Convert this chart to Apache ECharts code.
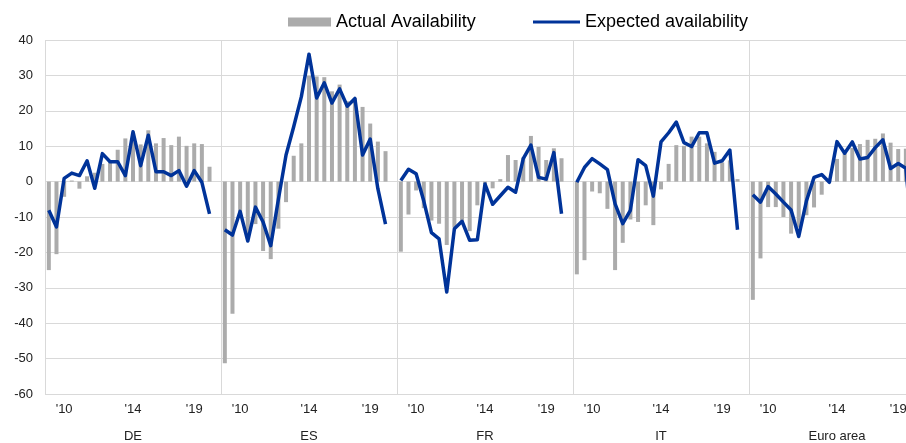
<!DOCTYPE html>
<html>
<head>
<meta charset="utf-8">
<script src="https://cdn.jsdelivr.net/npm/echarts@6/dist/echarts.min.js"></script>
<style>
  html, body { margin: 0; padding: 0; background: #fff; overflow: hidden; }
  /* the source chart runs past the right edge, so the canvas is wider than the window */
  #chart { width: 925px; height: 443px; }
</style>
</head>
<body>
<div id="chart"></div>
<script>
// panels and tick labels
var countries = ['DE', 'ES', 'FR', 'IT', 'Euro area'];
var periodLabels = ['', '', "'10", '', '', '', '', '', '', '', '', "'14", '', '', '', '', '', '', '', "'19", '', '', ''];

// actual availability (bars), 22 survey rounds per country
var actualDE = [-25, -20.5, -4.3, 0.3, -2, 1.5, 2.5, 5, 5.5, 9, 12.2, 12, 10.5, 14.5, 10.8, 12.3, 10.3, 12.7, 10.1, 10.8, 10.6, 4.2];
var actualES = [-51.3, -37.3, -10, -16, -12, -19.6, -21.9, -13.3, -5.8, 7.3, 10.8, 29.9, 29.7, 29.5, 25.5, 27.4, 22.7, 23.6, 21.1, 16.4, 11.3, 8.6];
var actualFR = [-19.8, -9.3, -2.5, -7.5, -11, -11.9, -17.9, -13, -11, -14, -6.7, -0.7, -1.9, 0.7, 7.5, 6.1, 6.8, 12.9, 9.8, 6.1, 9.4, 6.6];
var actualIT = [-26.2, -22.2, -2.8, -3.3, -7.7, -25, -17.3, -10.7, -11.4, -6.7, -12.3, -2.2, 5, 10.3, 10.1, 12.7, 12.7, 10.8, 8.4, 5.4, 6, 0.7];
var actualEA = [-33.4, -21.7, -7.2, -7.2, -10, -14.7, -13, -9.5, -7.3, -3.7, 0.5, 6.4, 8, 9.5, 10.6, 11.8, 12.1, 13.6, 11, 9.2, 9.3, 9];

// expected availability (line)
var expectedDE = [-8.1, -12.8, 0.9, 2.4, 1.7, 5.9, -1.9, 7.9, 5.6, 5.6, 1.7, 14.1, 4.5, 13.1, 2.8, 2.8, 1.7, 3.1, -1.3, 3.1, -0.2, -9.1];
var expectedES = [-13.6, -15.1, -8.4, -16.8, -7.2, -11.4, -18.1, -5, 7.5, 15.5, 24, 36, 23.6, 27.9, 22.2, 26.2, 21.3, 23.5, 7.5, 12, -2, -12];
var expectedFR = [0.3, 3.5, 2.2, -5.5, -14.4, -16.2, -31.2, -13.3, -11.2, -16.6, -16.4, -0.7, -6.4, -4, -1.6, -3, 6.5, 10.3, 1.2, 0.7, 8.2, -9.1];
var expectedIT = [-0.2, 4, 6.5, 5, 3.4, -6.3, -11.9, -8.1, 6.2, 4.5, -4.1, 11.2, 13.8, 16.8, 11, 9.9, 13.8, 13.8, 5.2, 5.9, 8.9, -13.6];
var expectedEA = [-3.7, -5.8, -1.4, -3.5, -5.8, -8, -15.5, -5.5, 1.2, 2, -0.2, 11.3, 8, 11.2, 6.4, 6.8, 9.6, 11.8, 3.7, 5.1, 3.8, -20];

var actualAll = [actualDE, actualES, actualFR, actualIT, actualEA];
var expectedAll = [expectedDE, expectedES, expectedFR, expectedIT, expectedEA];
var slots = periodLabels.length;

// one long category axis, a blank slot closes each panel
var cats = [], barData = [], lineData = [];
countries.forEach(function (c, k) {
    for (var i = 0; i < slots; i++) {
        cats.push(c + ' ' + i);
        barData.push(i < actualAll[k].length ? actualAll[k][i] : null);
        lineData.push(i < expectedAll[k].length ? expectedAll[k][i] : null);
    }
});

var font = 'Liberation Sans, Arial, sans-serif';
var gridColor = '#d9d9d9';
var blue = '#003399';
var isEdge = function (i) { return i % slots === 0; };

var chart = echarts.init(document.getElementById('chart'));
chart.setOption({
    animation: false,
    textStyle: { fontFamily: font },
    legend: [{
        left: 288, top: 13, padding: 0,
        data: [{ name: 'Actual Availability', icon: 'rect' }],
        itemWidth: 43, itemHeight: 9,
        textStyle: { fontSize: 18, color: '#000', fontFamily: font }
    }, {
        left: 533, top: 13, padding: 0,
        data: [{ name: 'Expected availability', icon: 'rect' }],
        itemWidth: 47, itemHeight: 3,
        itemStyle: { color: blue },
        textStyle: { fontSize: 18, color: '#000', fontFamily: font }
    }],
    grid: { left: 45, top: 40, right: 0, height: 357 },
    xAxis: [{
        type: 'category',
        data: cats,
        boundaryGap: true,
        axisLine: { show: false },
        axisTick: { show: true, interval: isEdge, length: 46, lineStyle: { color: gridColor } },
        splitLine: { show: true, interval: isEdge, lineStyle: { color: gridColor } },
        axisLabel: {
            interval: 0, margin: 9, fontSize: 13, color: '#222',
            formatter: function (v, i) { return periodLabels[i % slots]; }
        }
    }, {
        type: 'category',
        data: cats,
        position: 'bottom',
        offset: 27,
        axisLine: { show: false },
        axisTick: { show: false },
        splitLine: { show: false },
        axisLabel: {
            interval: 0, margin: 9, fontSize: 13, color: '#222',
            formatter: function (v, i) {
                return i % slots === 11 ? countries[Math.floor(i / slots)] : '';
            }
        }
    }],
    yAxis: {
        type: 'value',
        min: -60, max: 40, interval: 10,
        axisLine: { show: false },
        axisTick: { show: false },
        splitLine: { lineStyle: { color: gridColor } },
        axisLabel: { margin: 12, fontSize: 13, color: '#222' }
    },
    series: [{
        name: 'Actual Availability',
        type: 'bar',
        data: barData,
        barWidth: 4,
        itemStyle: { color: '#ababab' }
    }, {
        name: 'Expected availability',
        type: 'line',
        data: lineData,
        symbol: 'none',
        connectNulls: false,
        lineStyle: { color: blue, width: 3.5, join: 'round' },
        itemStyle: { color: blue }
    }]
});
</script>
</body>
</html>
